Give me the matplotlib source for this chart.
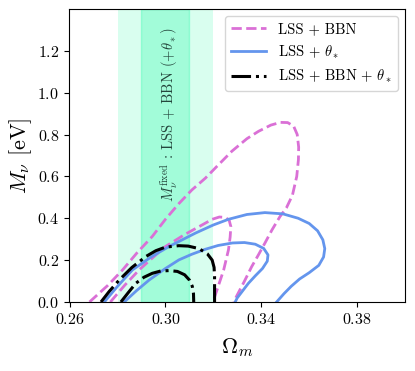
import matplotlib
matplotlib.use("Agg")
import matplotlib.pyplot as plt

plt.rcParams['font.family'] = 'cmr10'
plt.rcParams['mathtext.fontset'] = 'cm'
plt.rcParams['axes.formatter.use_mathtext'] = True

# Contours: (Omega_m, M_nu)
bbn_2s_om = [0.2683, 0.2760, 0.2821, 0.2880, 0.2945, 0.3000, 0.3056, 0.3110, 0.3167, 0.3208, 0.3277,
             0.3340, 0.3388, 0.3440, 0.3480, 0.3510, 0.3535, 0.3550, 0.3556, 0.3555, 0.3548, 0.3530,
             0.3505, 0.3478, 0.3445, 0.3415, 0.3388, 0.3360, 0.3330, 0.3298, 0.3285]
bbn_2s_mn = [0.0, 0.080, 0.153, 0.233, 0.313, 0.395, 0.470, 0.535, 0.592, 0.640, 0.720,
             0.780, 0.815, 0.845, 0.858, 0.857, 0.840, 0.800, 0.740, 0.680, 0.600, 0.510,
             0.450, 0.408, 0.345, 0.281, 0.225, 0.169, 0.100, 0.030, 0.0]
bbn_1s_om = [0.2770, 0.2830, 0.2890, 0.2945, 0.3000, 0.3080, 0.3153, 0.3195, 0.3225, 0.3250,
             0.3266, 0.3273, 0.3270, 0.3263, 0.3243, 0.3215, 0.3198]
bbn_1s_mn = [0.0, 0.080, 0.153, 0.210, 0.265, 0.322, 0.368, 0.395, 0.406, 0.404,
             0.390, 0.360, 0.310, 0.249, 0.153, 0.057, 0.0]

th_2s_om = [0.2745, 0.2800, 0.2862, 0.2940, 0.3015, 0.3125, 0.3200, 0.3263, 0.3340, 0.3415, 0.3490,
            0.3554, 0.3600, 0.3635, 0.3657, 0.3665, 0.3660, 0.3640, 0.3600, 0.3560, 0.3525,
            0.3495, 0.3464]
th_2s_mn = [0.0, 0.075, 0.153, 0.215, 0.265, 0.329, 0.368, 0.395, 0.418, 0.427, 0.421,
            0.400, 0.375, 0.340, 0.297, 0.255, 0.215, 0.175, 0.140, 0.110, 0.075,
            0.040, 0.0]
th_1s_om = [0.2828, 0.2880, 0.2932, 0.3000, 0.3056, 0.3110, 0.3167, 0.3220, 0.3280, 0.3330,
            0.3375, 0.3410, 0.3428, 0.3425, 0.3405, 0.3375, 0.3346, 0.3320, 0.3300, 0.3291]
th_1s_mn = [0.0, 0.055, 0.105, 0.160, 0.201, 0.228, 0.252, 0.270, 0.282, 0.284,
            0.276, 0.256, 0.225, 0.195, 0.160, 0.125, 0.089, 0.050, 0.020, 0.0]

all_2s_om = [0.2731, 0.2765, 0.2807, 0.2860, 0.2918, 0.2960, 0.3000, 0.3056, 0.3095, 0.3140,
             0.3175, 0.3195, 0.3203, 0.3205, 0.3205]
all_2s_mn = [0.0, 0.050, 0.105, 0.165, 0.217, 0.245, 0.262, 0.269, 0.267, 0.255,
             0.230, 0.200, 0.165, 0.120, 0.0]
all_1s_om = [0.2814, 0.2845, 0.2876, 0.2910, 0.2945, 0.2980, 0.3015, 0.3050, 0.3080, 0.3100,
             0.3112, 0.3117, 0.3118]
all_1s_mn = [0.0, 0.045, 0.089, 0.118, 0.137, 0.148, 0.150, 0.146, 0.130, 0.105,
             0.075, 0.040, 0.0]

# fixed-M_nu bands
band_2s = (0.28, 0.32)
band_1s = (0.29, 0.31)

fig = plt.figure(figsize=(4.15, 3.71), dpi=100)
ax = fig.add_axes([0.166, 0.186, 0.810, 0.790])

ax.axvspan(*band_2s, color='mediumspringgreen', alpha=0.15, lw=0)
ax.axvspan(*band_1s, color='mediumspringgreen', alpha=0.25, lw=1)
ax.text(0.3015, 0.895, r"$M_\nu^{\rm fixed}$ : LSS + BBN $(+\theta_*)$",
        rotation=90, ha='center', va='center', fontsize=10.5, color='#24463c')

pink, blue = 'orchid', 'cornflowerblue'
kw = dict(solid_joinstyle='round', dash_joinstyle='round')
ax.plot(bbn_2s_om, bbn_2s_mn, color=pink, ls='--', lw=2, label='LSS + BBN', **kw)
ax.plot(bbn_1s_om, bbn_1s_mn, color=pink, ls='--', lw=2, **kw)
ax.plot(th_2s_om, th_2s_mn, color=blue, lw=2, label=r'LSS + $\theta_*$', **kw)
ax.plot(th_1s_om, th_1s_mn, color=blue, lw=2, **kw)
ax.plot(all_2s_om, all_2s_mn, color='k', ls='-.', lw=2.2, label=r'LSS + BBN + $\theta_*$', **kw)
ax.plot(all_1s_om, all_1s_mn, color='k', ls='-.', lw=2.2, **kw)

ax.set_xlim(0.2597, 0.40)
ax.set_ylim(0, 1.4)
ax.set_xticks([0.26, 0.30, 0.34, 0.38])
ax.set_yticks([0.0, 0.2, 0.4, 0.6, 0.8, 1.0, 1.2])
ax.tick_params(labelsize=11.5)
ax.set_xlabel(r'$\Omega_m$', fontsize=16, labelpad=7)
ax.set_ylabel(r'$M_\nu$ [eV]', fontsize=16, labelpad=2)
ax.legend(loc='upper right', fontsize=10.5, handlelength=2.4)

fig.savefig('out.png', dpi=100)
